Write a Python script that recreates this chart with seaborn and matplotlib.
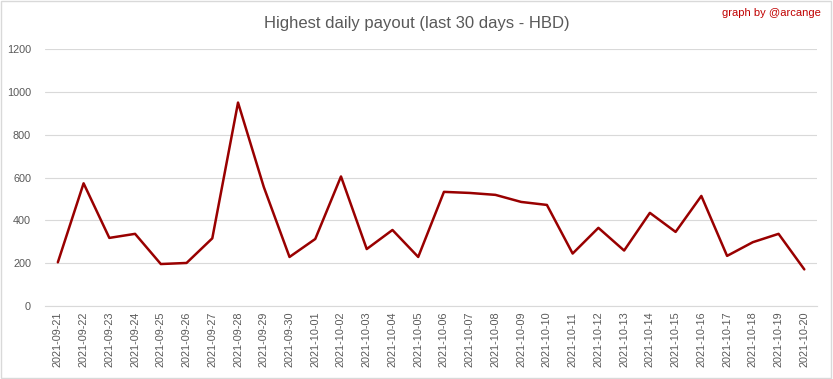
import matplotlib
matplotlib.use("Agg")
import matplotlib.pyplot as plt
import pandas as pd
import seaborn as sns

# Dates and highest daily payout (HBD)
dates = [
    "2021-09-21", "2021-09-22", "2021-09-23", "2021-09-24", "2021-09-25",
    "2021-09-26", "2021-09-27", "2021-09-28", "2021-09-29", "2021-09-30",
    "2021-10-01", "2021-10-02", "2021-10-03", "2021-10-04", "2021-10-05",
    "2021-10-06", "2021-10-07", "2021-10-08", "2021-10-09", "2021-10-10",
    "2021-10-11", "2021-10-12", "2021-10-13", "2021-10-14", "2021-10-15",
    "2021-10-16", "2021-10-17", "2021-10-18", "2021-10-19", "2021-10-20",
]
payout = [
    204, 573, 318, 337, 196, 201, 316, 950, 556, 229,
    313, 605, 266, 355, 229, 533, 528, 519, 486, 472,
    245, 365, 259, 435, 346, 514, 234, 298, 337, 171,
]
y_ticks = [0, 200, 400, 600, 800, 1000, 1200]

df = pd.DataFrame({"date": dates, "payout": payout})

sns.set_style("white")
plt.rcParams["font.family"] = ["Liberation Sans", "DejaVu Sans"]

fig = plt.figure(figsize=(8.33, 3.79), dpi=100)
ax = fig.add_axes([0.054, 0.1926, 0.927, 0.678])

sns.lineplot(data=df, x="date", y="payout", sort=False, color="#990000",
             linewidth=1.8, ax=ax)

ax.set_xlim(-0.5, len(dates) - 0.5)
ax.set_ylim(0, 1200)
ax.set_yticks(y_ticks)
ax.yaxis.grid(True, color="#D9D9D9", linewidth=0.8)
ax.set_axisbelow(True)
for side in ["top", "right", "left"]:
    ax.spines[side].set_visible(False)
ax.spines["bottom"].set_color("#D9D9D9")
ax.spines["bottom"].set_linewidth(0.8)

ax.tick_params(axis="both", length=0, colors="#595959", labelsize=7.8)
ax.tick_params(axis="x", rotation=90, pad=4)
ax.tick_params(axis="y", pad=10)
ax.set_xlabel(None)
ax.set_ylabel(None)

fig.text(0.5, 0.938, "Highest daily payout (last 30 days - HBD)",
         ha="center", va="center", fontsize=12, color="#595959")
fig.text(0.986, 0.965, "graph by @arcange", ha="right", va="center",
         fontsize=8, color="#C00000")

# light border around the chart
fig.patches.append(plt.Rectangle((0.001, 0.002), 0.997, 0.995,
                                 transform=fig.transFigure, fill=False,
                                 edgecolor="#D9D9D9", linewidth=1))

fig.savefig("out.png", dpi=100)
